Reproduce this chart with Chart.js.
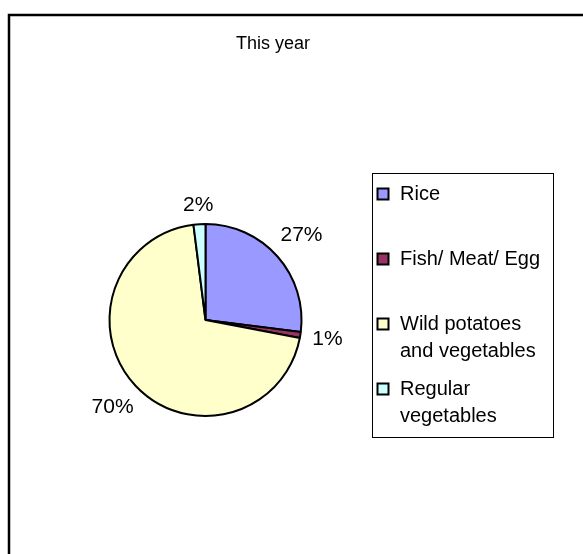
<!DOCTYPE html>
<html>
<head>
<meta charset="utf-8">
<script src="https://cdn.jsdelivr.net/npm/chart.js@4"></script>
<style>
  html, body { margin: 0; padding: 0; background: #fff; }
  #wrap { width: 583px; height: 554px; }
</style>
</head>
<body>
<div id="wrap"><canvas id="graph1" width="583" height="554"></canvas></div>
<script>
// values
var categories = ['Rice', 'Fish/ Meat/ Egg', 'Wild potatoes and vegetables', 'Regular vegetables'];
var shares = [27, 1, 70, 2];
var sliceColors = ['#9999FF', '#993366', '#FFFFCC', '#CCFFFF'];
var chartTitle = 'This year';

var FONT = '"Liberation Sans", Arial, sans-serif';

function wrapText(ctx, text, maxW) {
    var words = text.split(' '), lines = [], cur = '';
    words.forEach(function(w) {
        var test = cur ? cur + ' ' + w : w;
        if (cur && ctx.measureText(test).width > maxW) {
            lines.push(cur);
            cur = w;
        } else {
            cur = test;
        }
    });
    if (cur) lines.push(cur);
    return lines;
}

// frame, title, legend box and the % labels
var excelLook = {
    id: 'excelLook',
    beforeDraw: function(chart) {
        var c = chart.ctx;
        c.save();
        c.fillStyle = '#fff';
        c.fillRect(0, 0, chart.width, chart.height);
        c.restore();
    },
    afterDraw: function(chart) {
        var c = chart.ctx;
        c.save();
        // outer frame (runs off the right and bottom)
        c.strokeStyle = '#000';
        c.lineWidth = 2.5;
        c.strokeRect(9, 15, 700, 700);

        // title
        c.fillStyle = '#000';
        c.font = '18px ' + FONT;
        c.textAlign = 'center';
        c.textBaseline = 'middle';
        c.fillText(chartTitle, 273, 44);

        // % labels just outside each slice, nearest box edge ~11px off the rim
        c.font = '21px ' + FONT;
        var meta = chart.getDatasetMeta(0);
        var total = shares.reduce(function(a, b) { return a + b; }, 0);
        meta.data.forEach(function(arc, i) {
            var mid = (arc.startAngle + arc.endAngle) / 2;
            var ux = Math.cos(mid), uy = Math.sin(mid);
            var txt = Math.round(shares[i] / total * 100) + '%';
            var w = c.measureText(txt).width, h = 16;
            var r = arc.outerRadius, d = r;
            for (; d < r + 80; d += 0.5) {
                var cx = ux * d, cy = uy * d;
                var nx = Math.max(cx - w / 2, Math.min(0, cx + w / 2));
                var ny = Math.max(cy - h / 2, Math.min(0, cy + h / 2));
                if (Math.hypot(nx, ny) >= r + 11) break;
            }
            c.fillText(txt, arc.x + ux * d, arc.y + uy * d);
        });

        // legend
        var lx = 372.5, ly = 173.5, lw = 181, lh = 264;
        c.lineWidth = 1;
        c.strokeRect(lx, ly, lw, lh);
        c.textAlign = 'left';
        c.textBaseline = 'middle';
        categories.forEach(function(name, i) {
            var y = 194 + i * 65;
            c.fillStyle = sliceColors[i];
            c.fillRect(377.5, y - 5.5, 11, 11);
            c.strokeStyle = '#000';
            c.lineWidth = 2;
            c.strokeRect(377.5, y - 5.5, 11, 11);
            c.fillStyle = '#000';
            c.font = '20px ' + FONT;
            var lines = wrapText(c, name, 148);
            lines.forEach(function(line, j) {
                c.fillText(line, 400, y + j * 27);
            });
        });
        c.restore();
    }
};

var ctx = document.getElementById('graph1');

var myChart = new Chart(ctx, {
    type: 'pie',
    data: {
        labels: categories,
        datasets: [{
            data: shares,
            backgroundColor: sliceColors,
            borderColor: '#000',
            borderWidth: 2
        }]
    },
    options: {
        responsive: false,
        animation: false,
        layout: {
            padding: { left: 108.5, right: 280.5, top: 223, bottom: 137 }
        },
        plugins: {
            legend: { display: false },
            tooltip: { enabled: false }
        }
    },
    plugins: [excelLook]
});
</script>
</body>
</html>
